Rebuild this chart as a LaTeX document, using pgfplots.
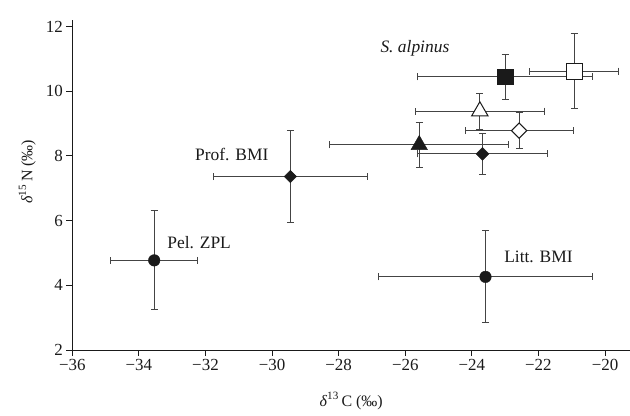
\documentclass[border=0pt]{standalone}
\usepackage{fontspec}
\setmainfont{Liberation Serif}
\usepackage{pgfplots}
\pgfplotsset{compat=1.18}
\definecolor{errgray}{HTML}{444444}
\definecolor{mk}{HTML}{1A1A1A}
\pgfplotstableread{
x y ex ey
-33.54 4.77 1.31 1.53
-23.59 4.26 3.22 1.42
}\circles
\pgfplotstableread{
x y ex ey
-29.45 7.36 2.32 1.42
}\profbmi
\pgfplotstableread{
x y ex ey
-23.68 8.06 1.96 0.63
}\fdiamond
\pgfplotstableread{
x y ex ey
-22.58 8.78 1.62 0.55
}\odiamond
\pgfplotstableread{
x y ex ey
-25.58 8.34 2.69 0.70
}\ftriangle
\pgfplotstableread{
x y ex ey
-23.76 9.38 1.93 0.55
}\otriangle
\pgfplotstableread{
x y ex ey
-23.00 10.44 2.63 0.70
}\fsquare
\pgfplotstableread{
x y ex ey
-20.93 10.62 1.34 1.16
}\osquare
\begin{document}
\begin{tikzpicture}
\begin{axis}[
  at={(72.3bp,66bp)}, anchor=south west,
  scale only axis, width=557.7bp, height=330bp,
  xmin=-36, xmax=-19.25, ymin=2, ymax=12.2,
  axis lines=left, axis line style={-, line width=0.8bp, mk},
  xtick={-36,-34,...,-20}, ytick={2,4,...,12},
  xticklabels={−36,−34,−32,−30,−28,−26,−24,−22,−20},
  yticklabels={2,4,6,8,10,12},
  tick align=outside, major tick length=6bp,
  tick style={mk, line width=0.8bp},
  tick label style={font=\fontsize{17}{20}\selectfont, text=mk},
  label style={font=\fontsize{16}{19}\selectfont, text=mk},
  xlabel={\textit{δ}\textsuperscript{13}\,C (‰)},
  ylabel={\textit{δ}\textsuperscript{15}\,N (‰)},
  xlabel style={at={(axis description cs:0.5,0)}, anchor=base, yshift=-56bp},
  ylabel style={at={([xshift=-45bp]axis description cs:0,0.54)}, anchor=center},
  clip=false,
  error bars/x dir=both, error bars/x explicit,
  error bars/y dir=both, error bars/y explicit,
  error bars/error bar style={errgray, line width=1bp},
  error bars/error mark options={errgray, line width=1bp, mark size=3.5bp, rotate=90},
]
\addplot[only marks, mark=*, mark size=5.8bp, mark options={fill=mk, draw=mk}]
  table[x=x, y=y, x error=ex, y error=ey] \circles;
\addplot[only marks, mark=square*, mark size=4.4bp, mark options={fill=mk, draw=mk, rotate=45}]
  table[x=x, y=y, x error=ex, y error=ey] \profbmi;
\addplot[only marks, mark=square*, mark size=4.6bp, mark options={fill=mk, draw=mk, rotate=45}]
  table[x=x, y=y, x error=ex, y error=ey] \fdiamond;
\addplot[only marks, mark=square*, mark size=5.4bp, mark options={fill=white, draw=mk, line width=1bp, rotate=45}]
  table[x=x, y=y, x error=ex, y error=ey] \odiamond;
\addplot[only marks, mark=triangle*, mark size=9.5bp, mark options={fill=mk, draw=mk}]
  table[x=x, y=y, x error=ex, y error=ey] \ftriangle;
\addplot[only marks, mark=triangle*, mark size=9.5bp, mark options={fill=white, draw=mk, line width=1bp}]
  table[x=x, y=y, x error=ex, y error=ey] \otriangle;
\addplot[only marks, mark=square*, mark size=7.6bp, mark options={fill=mk, draw=mk}]
  table[x=x, y=y, x error=ex, y error=ey] \fsquare;
\addplot[only marks, mark=square*, mark size=8bp, mark options={fill=white, draw=mk, line width=1bp}]
  table[x=x, y=y, x error=ex, y error=ey] \osquare;
\node[font=\fontsize{17.5}{20}\selectfont\itshape, text=mk] at (axis cs:-25.71,11.32) {S. alpinus};
\node[font=\fontsize{17.5}{20}\selectfont, text=mk] at (axis cs:-31.21,8.05) {Prof. BMI};
\node[font=\fontsize{17.5}{20}\selectfont, text=mk] at (axis cs:-32.19,5.33) {Pel. ZPL};
\node[font=\fontsize{17.5}{20}\selectfont, text=mk] at (axis cs:-22.0,4.87) {Litt. BMI};
\end{axis}
\pgfresetboundingbox
\useasboundingbox (0,0) rectangle (630bp,416bp);
\end{tikzpicture}
\end{document}
